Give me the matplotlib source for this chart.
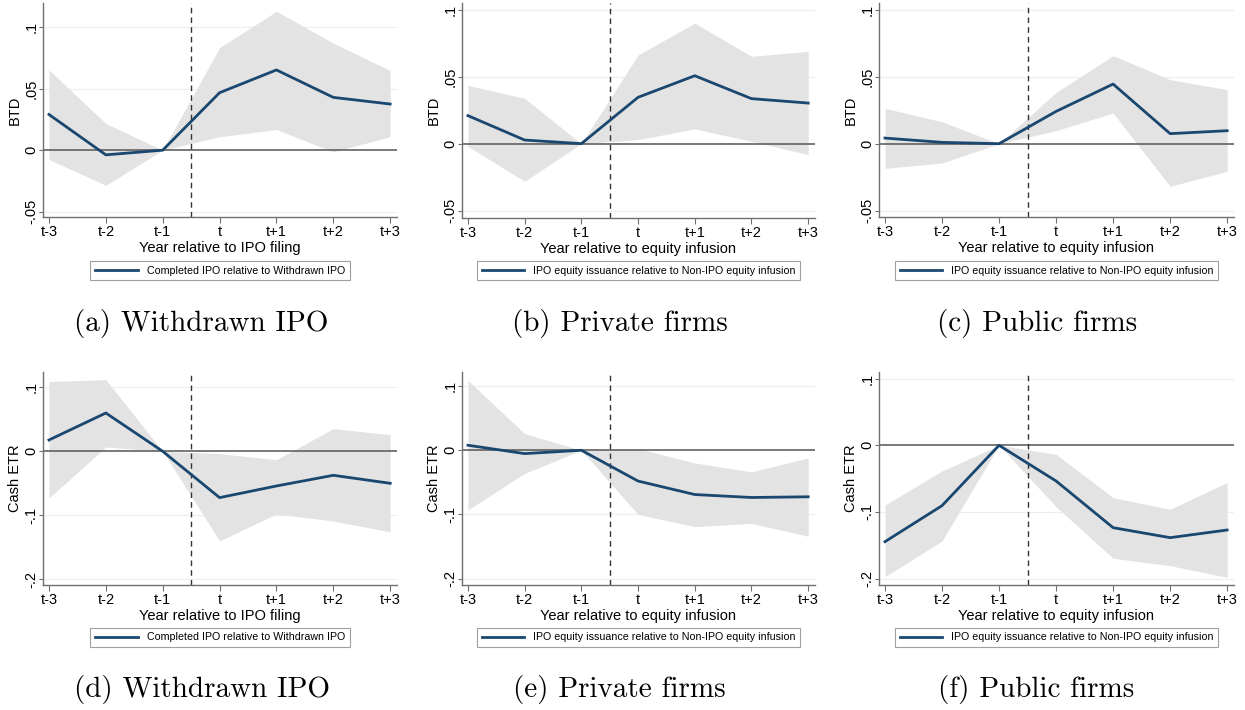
import numpy as np
import matplotlib
matplotlib.use("Agg")
import matplotlib.pyplot as plt

plt.rcParams['font.family'] = ['Liberation Sans', 'DejaVu Sans']

# event-time labels
periods = ['t-3', 't-2', 't-1', 't', 't+1', 't+2', 't+3']

# BTD panels (point estimate, upper CI, lower CI)
btd_withdrawn = [0.029, -0.0038, 0.0, 0.0467, 0.0652, 0.0429, 0.0375]
btd_withdrawn_hi = [0.0652, 0.0217, 0.0, 0.0834, 0.1128, 0.087, 0.0647]
btd_withdrawn_lo = [-0.0076, -0.0285, 0.0, 0.0109, 0.0168, -0.0014, 0.0109]

btd_private = [0.0209, 0.0027, 0.0, 0.0346, 0.0507, 0.0336, 0.0303]
btd_private_hi = [0.0435, 0.0338, 0.0, 0.0662, 0.090, 0.0652, 0.0689]
btd_private_lo = [-0.002, -0.0281, 0.0, 0.003, 0.011, 0.0017, -0.0082]

btd_public = [0.0042, 0.001, 0.0, 0.0241, 0.0445, 0.0075, 0.0097]
btd_public_hi = [0.0264, 0.0164, 0.0, 0.0383, 0.0657, 0.0478, 0.0403]
btd_public_lo = [-0.0184, -0.0144, 0.0, 0.0097, 0.0229, -0.0318, -0.0206]

# Cash ETR panels
etr_withdrawn = [0.0177, 0.0599, 0.0, -0.0724, -0.0542, -0.0375, -0.050]
etr_withdrawn_hi = [0.109, 0.112, 0.0, -0.0036, -0.013, 0.0354, 0.026]
etr_withdrawn_lo = [-0.073, 0.0068, 0.0, -0.140, -0.098, -0.109, -0.126]

etr_private = [0.0078, -0.0052, 0.0, -0.048, -0.069, -0.0736, -0.0725]
etr_private_hi = [0.109, 0.0259, 0.0, 0.0026, -0.0197, -0.0337, -0.0119]
etr_private_lo = [-0.093, -0.036, 0.0, -0.100, -0.119, -0.114, -0.134]

etr_public = [-0.1445, -0.0905, 0.0, -0.0535, -0.1235, -0.1385, -0.127]
etr_public_hi = [-0.0895, -0.0385, 0.0, -0.0135, -0.0785, -0.096, -0.0555]
etr_public_lo = [-0.197, -0.1435, 0.0, -0.092, -0.1695, -0.1805, -0.198]

btd_ticks = [-0.05, 0, 0.05, 0.1]
btd_ticklabels = ['-.05', '0', '.05', '.1']
etr_ticks = [-0.2, -0.1, 0, 0.1]
etr_ticklabels = ['-.2', '-.1', '0', '.1']

xlab_filing = 'Year relative to IPO filing'
xlab_infusion = 'Year relative to equity infusion'
leg_withdrawn = 'Completed IPO relative to Withdrawn IPO'
leg_infusion = 'IPO equity issuance relative to Non-IPO equity infusion'
captions = ['(a) Withdrawn IPO', '(b) Private firms', '(c) Public firms',
            '(d) Withdrawn IPO', '(e) Private firms', '(f) Public firms']

W, H = 1245, 710
fig = plt.figure(figsize=(W / 100, H / 100), dpi=100)

navy = '#1a476f'
band = '#e3e3e3'
grid_c = '#e8f0f1'
axis_c = '#707070'


def px_axes(l, r, t, b):
    return fig.add_axes([l / W, 1 - b / H, (r - l) / W, (b - t) / H])


def panel(box, est, hi, lo, ylim, ticks, ticklabels, ylab, xlab, leg, leg_y):
    ax = px_axes(*box)
    x = np.arange(len(periods))
    for t in ticks:
        if t != 0:
            ax.axhline(t, color=grid_c, lw=0.9, zorder=0)
    ax.fill_between(x, lo, hi, color=band, lw=0, zorder=1)
    ax.axhline(0, color='#555555', lw=1.1, zorder=2)
    ax.axvline(2.5, color='#333333', lw=1.0, ls=(0, (4, 3)), zorder=2)
    ax.plot(x, est, color=navy, lw=2.0, label=leg, zorder=3)
    ax.set_xlim(-0.105, 6.12)
    ax.set_ylim(*ylim)
    ax.set_xticks(x)
    ax.set_xticklabels(periods, fontsize=10.5)
    ax.set_yticks(ticks)
    ax.set_yticklabels(ticklabels, fontsize=10.5, rotation=90, va='center')
    ax.set_ylabel(ylab, fontsize=10.5, labelpad=2)
    ax.set_xlabel(xlab, fontsize=10.5, labelpad=1.5)
    for s in ['top', 'right']:
        ax.spines[s].set_visible(False)
    for s in ['left', 'bottom']:
        ax.spines[s].set_color(axis_c)
        ax.spines[s].set_linewidth(1.0)
    ax.tick_params(axis='x', length=4, color=axis_c, pad=1.5)
    ax.tick_params(axis='y', length=3, color=axis_c, pad=0)
    cx = (box[0] + box[1]) / 2
    lg = ax.legend(loc='center', bbox_to_anchor=(cx / W, 1 - leg_y / H),
                   bbox_transform=fig.transFigure, fontsize=7.7, frameon=True,
                   fancybox=False, handlelength=4.0, borderpad=0.45,
                   handletextpad=0.8)
    lg.get_frame().set_edgecolor('#888888')
    lg.get_frame().set_linewidth(0.8)
    return ax


panel((43, 397, 3, 217), btd_withdrawn, btd_withdrawn_hi, btd_withdrawn_lo,
      (-0.0543, 0.1196), btd_ticks, btd_ticklabels, 'BTD', xlab_filing, leg_withdrawn, 270.5)
panel((462, 815, 3, 218), btd_private, btd_private_hi, btd_private_lo,
      (-0.0555, 0.105), btd_ticks, btd_ticklabels, 'BTD', xlab_infusion, leg_infusion, 270.5)
panel((879, 1234, 3, 217), btd_public, btd_public_hi, btd_public_lo,
      (-0.0547, 0.105), btd_ticks, btd_ticklabels, 'BTD', xlab_infusion, leg_infusion, 270.5)
panel((43, 397, 372, 585), etr_withdrawn, etr_withdrawn_hi, etr_withdrawn_lo,
      (-0.209, 0.124), etr_ticks, etr_ticklabels, 'Cash ETR', xlab_filing, leg_withdrawn, 637.5)
panel((462, 815, 372, 585), etr_private, etr_private_hi, etr_private_lo,
      (-0.21, 0.122), etr_ticks, etr_ticklabels, 'Cash ETR', xlab_infusion, leg_infusion, 637.5)
panel((879, 1234, 372, 585), etr_public, etr_public_hi, etr_public_lo,
      (-0.2095, 0.11), etr_ticks, etr_ticklabels, 'Cash ETR', xlab_infusion, leg_infusion, 637.5)

cap_x = [201, 620, 1037, 202, 619, 1036]
cap_y = [323, 323, 323, 690, 690, 690]
for txt, cx, cy in zip(captions, cap_x, cap_y):
    fig.text(cx / W, 1 - cy / H, txt, ha='center', va='center',
             fontsize=21, family='cmr10')

fig.savefig('out.png', dpi=100)
